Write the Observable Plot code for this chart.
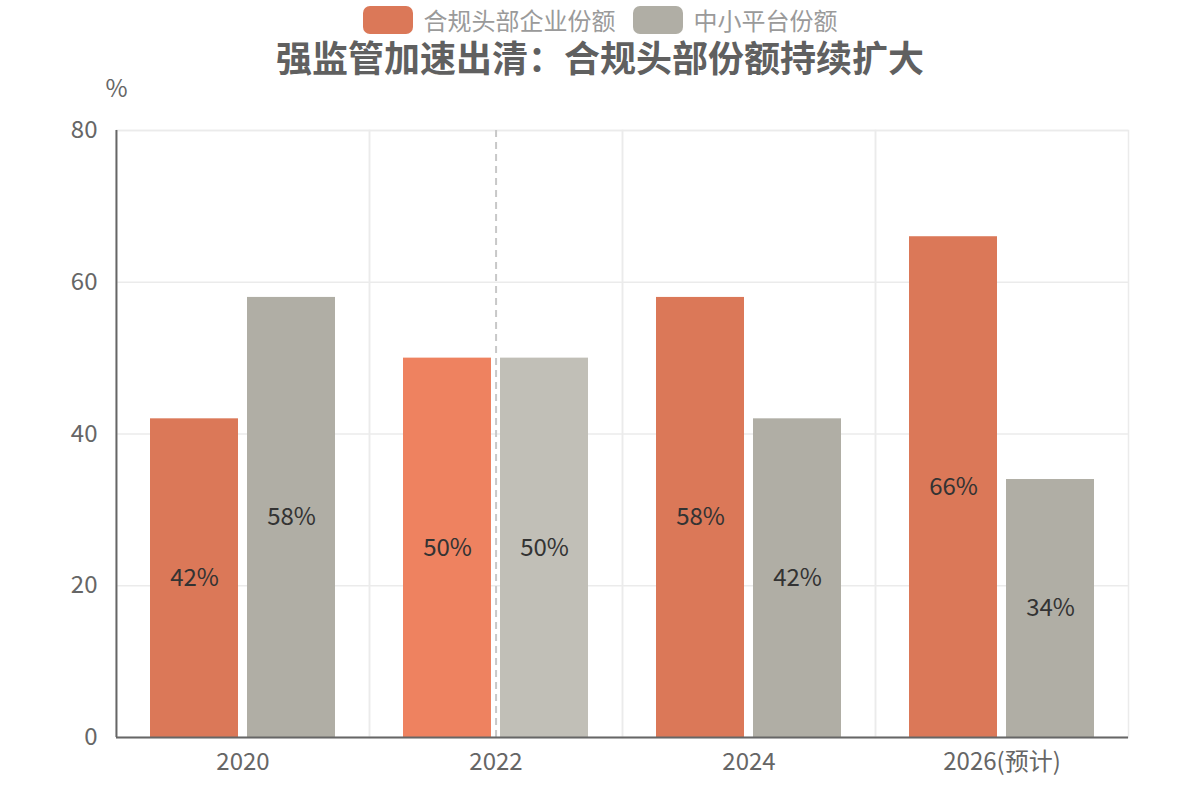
<!DOCTYPE html>
<html>
<head>
<meta charset="utf-8">
<script src="https://cdn.jsdelivr.net/npm/d3@7"></script>
<script src="https://cdn.jsdelivr.net/npm/@observablehq/plot@0.6"></script>
<style>
  body { margin: 0; background: #fff; font-family: "Noto Sans CJK SC", "Noto Sans", sans-serif; }
  #wrap { width: 1200px; height: 800px; position: relative; overflow: hidden; }
  #header { position: relative; width: 1200px; height: 75px; }
  #legend { position: absolute; top: 6px; left: 0; width: 1200px; display: flex; justify-content: center; gap: 17px; }
  .item { display: flex; align-items: center; gap: 11px; font-size: 24px; color: #9a9a9a; line-height: 28px; }
  .sw { width: 50px; height: 28px; border-radius: 7px; }
  #title { position: absolute; top: 38px; left: 0; width: 1200px; text-align: center; font-size: 36px; line-height: 36px; font-weight: bold; color: #606060; }
</style>
</head>
<body>
<div id="wrap">
  <div id="header">
    <div id="legend"></div>
    <div id="title"></div>
  </div>
  <div id="chart"></div>
</div>
<script>
const titleText = "强监管加速出清：合规头部份额持续扩大";
const years = ["2020", "2022", "2024", "2026(预计)"];
const seriesNames = ["合规头部企业份额", "中小平台份额"];
const headShare = [42, 50, 58, 66];
const smallShare = [58, 50, 42, 34];
const yTicks = [0, 20, 40, 60, 80];
const highlightYear = "2022";
const baseColors = ["#DB7858", "#B0AEA5"];
const highlightColors = ["#EE8260", "#C1BFB7"];

document.getElementById("title").textContent = titleText;
const legend = document.getElementById("legend");
seriesNames.forEach((s, i) => {
  const it = document.createElement("div");
  it.className = "item";
  const sw = document.createElement("div");
  sw.className = "sw";
  sw.style.background = baseColors[i];
  const t = document.createElement("span");
  t.textContent = s;
  it.appendChild(sw); it.appendChild(t);
  legend.appendChild(it);
});

const data = years.flatMap((yr, i) => [
  {year: yr, series: seriesNames[0], value: headShare[i]},
  {year: yr, series: seriesNames[1], value: smallShare[i]}
]);
const hlKey = s => s + "·高亮";
const colorDomain = [...seriesNames, ...seriesNames.map(hlKey)];
const colorRange = [...baseColors, ...highlightColors];

// layout
const W = 1200, H = 725, ML = 115, MR = 72, MT = 55, MB = 63;
const PAD_IN = 0.093, PAD_OUT = 0.35;
const facetW = (W - ML - MR) / years.length;
const step = facetW / (seriesNames.length - PAD_IN + 2 * PAD_OUT);
const bw = step * (1 - PAD_IN);

const chart = Plot.plot({
  width: W,
  height: H,
  marginTop: MT,
  marginBottom: MB,
  marginLeft: ML,
  marginRight: MR,
  style: {fontFamily: '"Noto Sans CJK SC", "Noto Sans", sans-serif', fontSize: "24px", background: "#fff", overflow: "visible"},
  fx: {domain: years, padding: 0, label: null},
  x: {domain: seriesNames, paddingInner: PAD_IN, paddingOuter: PAD_OUT, axis: null},
  y: {domain: [0, 80], label: null},
  color: {domain: colorDomain, range: colorRange},
  marks: [
    Plot.frame({stroke: "#ebebeb", strokeWidth: 1.5}),
    Plot.gridY(yTicks, {stroke: "#ebebeb", strokeOpacity: 1, strokeWidth: 1.5}),
    Plot.ruleX([highlightYear], {fx: d => d, x: () => seriesNames[0], dx: step / 2,
      stroke: "#c8c8c8", strokeWidth: 2, strokeDasharray: "7,5"}),
    Plot.barY(data, {fx: "year", x: "series", y: "value",
      fill: d => d.year === highlightYear ? hlKey(d.series) : d.series}),
    Plot.text(data, {fx: "year", x: "series", y: d => d.value / 2,
      text: d => d.value + "%", fill: "#333", fontSize: 24}),
    Plot.ruleY([0], {stroke: "#666", strokeWidth: 2}),
    Plot.ruleX([years[0]], {fx: d => d, x: () => seriesNames[0], dx: -(PAD_OUT * step + bw / 2),
      stroke: "#666", strokeWidth: 2}),
    Plot.text(["%"], {fx: () => years[0], frameAnchor: "top-left", text: d => d,
      dy: -51, textAnchor: "middle", fill: "#666", fontSize: 24}),
    Plot.axisY({ticks: yTicks, tickSize: 0, tickPadding: 19, label: null, fontSize: 24, fill: "#666"}),
    Plot.axisFx({anchor: "bottom", tickSize: 0, tickPadding: 15, label: null, fontSize: 24, fill: "#666"})
  ]
});
document.getElementById("chart").appendChild(chart);
</script>
</body>
</html>
